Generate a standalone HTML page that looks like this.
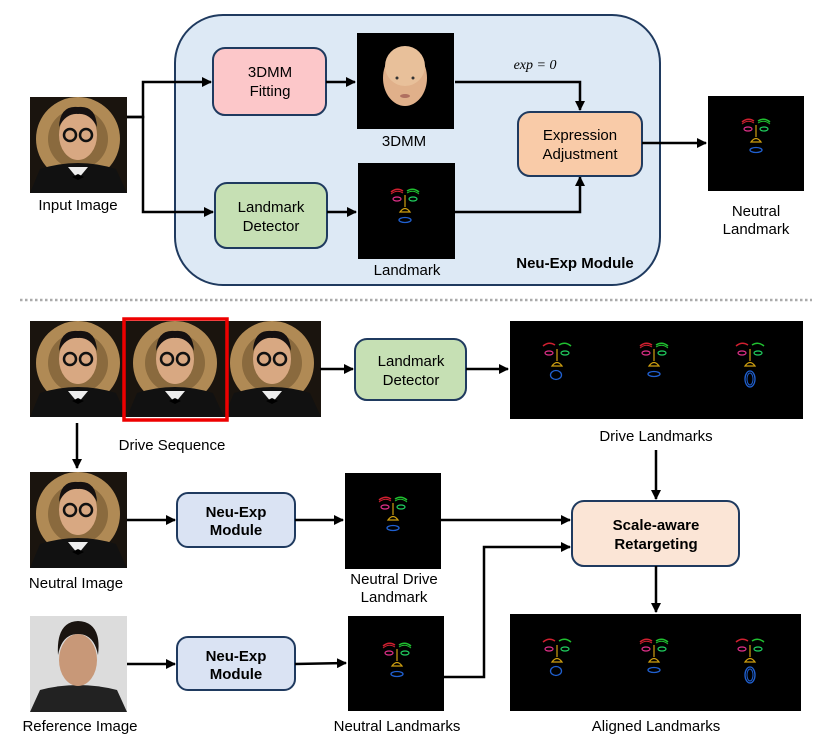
<!DOCTYPE html>
<html><head><meta charset="utf-8"><style>
html,body{margin:0;padding:0;background:#fff;}
svg{display:block;font-family:"Liberation Sans","DejaVu Sans",sans-serif;}
</style></head><body>
<svg width="830" height="748" viewBox="0 0 830 748" xmlns="http://www.w3.org/2000/svg">
<defs>
<marker id="ah" markerWidth="10" markerHeight="10" refX="9" refY="5" orient="auto" markerUnits="userSpaceOnUse">
<path d="M0,0 L10,5 L0,10 z" fill="#000"/></marker>
<g id="lm">
<path d="M-13,-18 q6,-5 12,-1" stroke="#d02030" stroke-width="1.5" fill="none"/>
<path d="M-13,-16 q6,-5 12,-1" stroke="#d02030" stroke-width="1" fill="none"/>
<path d="M3,-19 q6,-4 12,1" stroke="#20c030" stroke-width="1.5" fill="none"/>
<path d="M3,-17 q6,-4 12,1" stroke="#20c030" stroke-width="1" fill="none"/>
<ellipse cx="-7" cy="-11" rx="4" ry="2" stroke="#e0308a" stroke-width="1.2" fill="none"/>
<ellipse cx="9" cy="-11" rx="4" ry="2" stroke="#20d060" stroke-width="1.2" fill="none"/>
<path d="M1,-15 v12 M-4,2 q5,-7 10,0 z" stroke="#d0a010" stroke-width="1.2" fill="none"/>
<ellipse cx="1" cy="10" rx="6" ry="2.5" stroke="#2060d0" stroke-width="1.3" fill="none"/>
</g>
<g id="lmO">
<path d="M-13,-18 q6,-5 12,-1" stroke="#d02030" stroke-width="1.5" fill="none"/>
<path d="M3,-19 q6,-4 12,1" stroke="#20c030" stroke-width="1.5" fill="none"/>
<ellipse cx="-7" cy="-11" rx="4" ry="2" stroke="#e0308a" stroke-width="1.2" fill="none"/>
<ellipse cx="9" cy="-11" rx="4" ry="2" stroke="#20d060" stroke-width="1.2" fill="none"/>
<path d="M1,-15 v12 M-4,2 q5,-7 10,0 z" stroke="#d0a010" stroke-width="1.2" fill="none"/>
<ellipse cx="1" cy="15" rx="5" ry="8" stroke="#2060d0" stroke-width="1.3" fill="none"/>
<ellipse cx="1" cy="15" rx="3" ry="6" stroke="#2060d0" stroke-width="1" fill="none"/>
</g>
<g id="lmS">
<path d="M-13,-18 q6,-5 12,-1" stroke="#d02030" stroke-width="1.5" fill="none"/>
<path d="M3,-19 q6,-4 12,1" stroke="#20c030" stroke-width="1.5" fill="none"/>
<ellipse cx="-7" cy="-11" rx="4" ry="2" stroke="#e0308a" stroke-width="1.2" fill="none"/>
<ellipse cx="9" cy="-11" rx="4" ry="2" stroke="#20d060" stroke-width="1.2" fill="none"/>
<path d="M1,-15 v12 M-4,2 q5,-7 10,0 z" stroke="#d0a010" stroke-width="1.2" fill="none"/>
<ellipse cx="0" cy="11" rx="5.5" ry="4.5" stroke="#2060d0" stroke-width="1.3" fill="none"/>
</g>
<g id="man">
<rect x="0" y="0" width="97" height="96" fill="#1a140e"/>
<circle cx="48" cy="42" r="42" fill="#b08a55"/>
<circle cx="48" cy="42" r="30" fill="#8a6a3e"/>
<path d="M0,96 L10,72 Q48,60 86,72 L97,96 z" fill="#111"/>
<path d="M38,70 L48,82 L58,70 z" fill="#eee"/>
<ellipse cx="48" cy="38" rx="19" ry="25" fill="#d8a882"/>
<path d="M29,30 Q30,8 48,10 Q66,8 67,30 Q60,16 48,17 Q36,16 29,30z" fill="#151010"/>
<circle cx="40" cy="38" r="6" fill="none" stroke="#111" stroke-width="2.5"/>
<circle cx="56" cy="38" r="6" fill="none" stroke="#111" stroke-width="2.5"/>
<path d="M42,80 l6,-3 6,3 -6,3z" fill="#000"/>
</g>
</defs>

<rect x="175" y="15" width="485" height="270" rx="48" fill="#dde9f5" stroke="#1f3a5f" stroke-width="2"/>
<text x="575" y="268" font-size="15" font-weight="bold" text-anchor="middle">Neu-Exp Module</text>

<use href="#man" x="30" y="97"/>
<text x="78" y="210" font-size="15" text-anchor="middle">Input Image</text>

<polyline points="127,117 143,117 143,82 211,82" fill="none" stroke="#000" stroke-width="2.5" marker-end="url(#ah)"/>
<polyline points="127,117 143,117 143,212 213,212" fill="none" stroke="#000" stroke-width="2.5" marker-end="url(#ah)"/>

<rect x="213" y="48" width="113" height="67" rx="12" fill="#fcc7c9" stroke="#1f3a5f" stroke-width="2"/>
<text x="270" y="77" font-size="15" text-anchor="middle">3DMM</text>
<text x="270" y="96" font-size="15" text-anchor="middle">Fitting</text>
<line x1="326" y1="82" x2="355" y2="82" stroke="#000" stroke-width="2.5" marker-end="url(#ah)"/>

<rect x="357" y="33" width="97" height="96" fill="#000"/>
<ellipse cx="405" cy="78" rx="22" ry="28" fill="#e0b08a"/>
<ellipse cx="405" cy="66" rx="20" ry="20" fill="#e8c09a"/>
<circle cx="397" cy="78" r="1.5" fill="#333"/><circle cx="413" cy="78" r="1.5" fill="#333"/>
<ellipse cx="405" cy="96" rx="5" ry="2" fill="#b07060"/>
<text x="404" y="146" font-size="15" text-anchor="middle">3DMM</text>

<rect x="215" y="183" width="112" height="65" rx="12" fill="#c6e0b4" stroke="#1f3a5f" stroke-width="2"/>
<text x="271" y="212" font-size="15" text-anchor="middle">Landmark</text>
<text x="271" y="231" font-size="15" text-anchor="middle">Detector</text>
<line x1="327" y1="212" x2="356" y2="212" stroke="#000" stroke-width="2.5" marker-end="url(#ah)"/>

<rect x="358" y="163" width="97" height="96" fill="#000"/>
<use href="#lm" x="404" y="210"/>
<text x="407" y="275" font-size="15" text-anchor="middle">Landmark</text>

<text x="535" y="69" font-size="14" font-family="Liberation Serif,serif" font-style="italic" text-anchor="middle">exp = 0</text>
<polyline points="455,82 580,82 580,110" fill="none" stroke="#000" stroke-width="2.5" marker-end="url(#ah)"/>
<polyline points="455,212 580,212 580,177" fill="none" stroke="#000" stroke-width="2.5" marker-end="url(#ah)"/>

<rect x="518" y="112" width="124" height="64" rx="12" fill="#f9cba8" stroke="#1f3a5f" stroke-width="2"/>
<text x="580" y="140" font-size="15" text-anchor="middle">Expression</text>
<text x="580" y="159" font-size="15" text-anchor="middle">Adjustment</text>
<line x1="642" y1="143" x2="706" y2="143" stroke="#000" stroke-width="2.5" marker-end="url(#ah)"/>

<rect x="708" y="96" width="96" height="95" fill="#000"/>
<use href="#lm" x="755" y="140"/>
<text x="756" y="216" font-size="15" text-anchor="middle">Neutral</text>
<text x="756" y="234" font-size="15" text-anchor="middle">Landmark</text>

<line x1="20" y1="300" x2="812" y2="300" stroke="#aaa" stroke-width="2.5" stroke-dasharray="2.5,2.5"/>

<use href="#man" x="30" y="321"/>
<use href="#man" x="127" y="321"/>
<use href="#man" x="224" y="321"/>
<rect x="124" y="319" width="103" height="101" fill="none" stroke="#e00" stroke-width="3.5"/>
<text x="172" y="450" font-size="15" text-anchor="middle">Drive Sequence</text>

<line x1="320" y1="369" x2="353" y2="369" stroke="#000" stroke-width="2.5" marker-end="url(#ah)"/>
<rect x="355" y="339" width="111" height="61" rx="12" fill="#c6e0b4" stroke="#1f3a5f" stroke-width="2"/>
<text x="411" y="366" font-size="15" text-anchor="middle">Landmark</text>
<text x="411" y="385" font-size="15" text-anchor="middle">Detector</text>
<line x1="466" y1="369" x2="508" y2="369" stroke="#000" stroke-width="2.5" marker-end="url(#ah)"/>

<rect x="510" y="321" width="293" height="98" fill="#000"/>
<use href="#lmS" x="556" y="364"/>
<use href="#lm" x="653" y="364"/>
<use href="#lmO" x="749" y="364"/>
<text x="656" y="441" font-size="15" text-anchor="middle">Drive Landmarks</text>
<line x1="656" y1="450" x2="656" y2="499" stroke="#000" stroke-width="2.5" marker-end="url(#ah)"/>

<line x1="77" y1="423" x2="77" y2="468" stroke="#000" stroke-width="2.5" marker-end="url(#ah)"/>
<use href="#man" x="30" y="472"/>
<text x="76" y="588" font-size="15" text-anchor="middle">Neutral Image</text>

<line x1="127" y1="520" x2="175" y2="520" stroke="#000" stroke-width="2.5" marker-end="url(#ah)"/>
<rect x="177" y="493" width="118" height="54" rx="11" fill="#dae3f3" stroke="#1f3a5f" stroke-width="2"/>
<text x="236" y="517" font-size="15" font-weight="bold" text-anchor="middle">Neu-Exp</text>
<text x="236" y="535" font-size="15" font-weight="bold" text-anchor="middle">Module</text>
<line x1="295" y1="520" x2="343" y2="520" stroke="#000" stroke-width="2.5" marker-end="url(#ah)"/>
<rect x="345" y="473" width="96" height="96" fill="#000"/>
<use href="#lm" x="392" y="518"/>
<text x="394" y="584" font-size="15" text-anchor="middle">Neutral Drive</text>
<text x="394" y="602" font-size="15" text-anchor="middle">Landmark</text>

<line x1="441" y1="520" x2="570" y2="520" stroke="#000" stroke-width="2.5" marker-end="url(#ah)"/>
<polyline points="444,677 484,677 484,547 570,547" fill="none" stroke="#000" stroke-width="2.5" marker-end="url(#ah)"/>

<rect x="572" y="501" width="167" height="65" rx="12" fill="#fbe5d6" stroke="#1f3a5f" stroke-width="2"/>
<text x="656" y="530" font-size="15" font-weight="bold" text-anchor="middle">Scale-aware</text>
<text x="656" y="549" font-size="15" font-weight="bold" text-anchor="middle">Retargeting</text>
<line x1="656" y1="566" x2="656" y2="612" stroke="#000" stroke-width="2.5" marker-end="url(#ah)"/>

<rect x="510" y="614" width="291" height="97" fill="#000"/>
<use href="#lmS" x="556" y="660"/>
<use href="#lm" x="653" y="660"/>
<use href="#lmO" x="749" y="660"/>
<text x="656" y="731" font-size="15" text-anchor="middle">Aligned Landmarks</text>

<rect x="30" y="616" width="97" height="96" fill="#dcdcdc"/>
<path d="M30,712 L40,690 Q78,680 117,690 L127,712z" fill="#222"/>
<ellipse cx="78" cy="660" rx="19" ry="26" fill="#c89878"/>
<path d="M58,655 Q56,622 78,621 Q102,622 98,655 Q94,634 78,634 Q62,634 58,655z" fill="#1a1410"/>
<text x="80" y="731" font-size="15" text-anchor="middle">Reference Image</text>

<line x1="127" y1="664" x2="175" y2="664" stroke="#000" stroke-width="2.5" marker-end="url(#ah)"/>
<rect x="177" y="637" width="118" height="53" rx="11" fill="#dae3f3" stroke="#1f3a5f" stroke-width="2"/>
<text x="236" y="661" font-size="15" font-weight="bold" text-anchor="middle">Neu-Exp</text>
<text x="236" y="679" font-size="15" font-weight="bold" text-anchor="middle">Module</text>
<line x1="295" y1="664" x2="346" y2="663" stroke="#000" stroke-width="2.5" marker-end="url(#ah)"/>
<rect x="348" y="616" width="96" height="95" fill="#000"/>
<use href="#lm" x="396" y="664"/>
<text x="397" y="731" font-size="15" text-anchor="middle">Neutral Landmarks</text>
</svg>
</body></html>
